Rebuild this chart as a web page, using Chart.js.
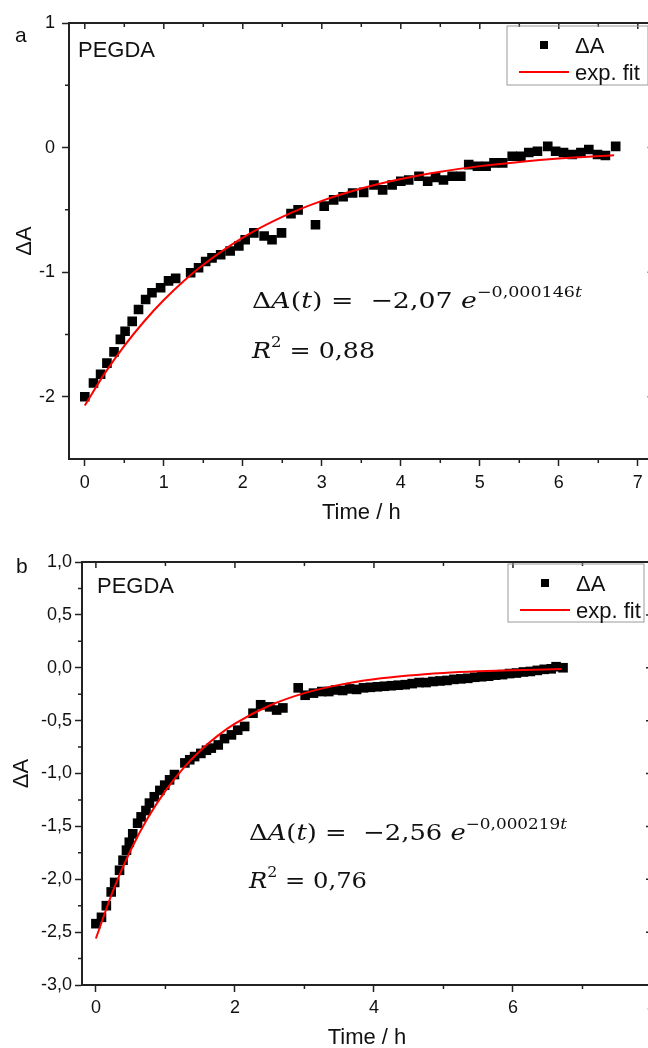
<!DOCTYPE html>
<html>
<head>
<meta charset="utf-8">
<script src="https://cdn.jsdelivr.net/npm/chart.js@4.4.1/dist/chart.umd.min.js"></script>
<style>
  html, body { margin: 0; padding: 0; background: #fff; overflow: hidden; width: 648px; height: 1048px; }
  .panel { position: absolute; left: 0; }
  #panelA { top: 0; }
  #panelB { top: 530px; }
</style>
</head>
<body>
<div class="panel" id="panelA"><canvas id="chartA" width="670" height="530"></canvas></div>
<div class="panel" id="panelB"><canvas id="chartB" width="670" height="530"></canvas></div>
<script>
// --- data ---
const timeA = [0, 0.11, 0.2, 0.28, 0.37, 0.45, 0.51, 0.6, 0.68, 0.77, 0.85, 0.96, 1.06, 1.15,
  1.34, 1.44, 1.53, 1.61, 1.72, 1.84, 1.95, 2.03, 2.14, 2.27, 2.37, 2.49, 2.61, 2.7, 2.92,
  3.03, 3.15, 3.27, 3.39, 3.53, 3.66, 3.77, 3.89, 4.0, 4.1, 4.23, 4.34, 4.44, 4.54, 4.65,
  4.76, 4.86, 4.97, 5.08, 5.18, 5.29, 5.41, 5.52, 5.62, 5.73, 5.86, 5.96, 6.06, 6.17, 6.28,
  6.38, 6.49, 6.59, 6.72];
const deltaA = [-2.0, -1.89, -1.82, -1.73, -1.64, -1.54, -1.475, -1.395, -1.3, -1.22, -1.165, -1.125, -1.07, -1.05,
  -1.005, -0.965, -0.915, -0.885, -0.86, -0.83, -0.79, -0.74, -0.685, -0.71, -0.74, -0.685, -0.53, -0.5, -0.62,
  -0.47, -0.42, -0.395, -0.365, -0.36, -0.3, -0.34, -0.3, -0.27, -0.26, -0.23, -0.27, -0.24, -0.26, -0.23,
  -0.23, -0.137, -0.15, -0.15, -0.123, -0.123, -0.07, -0.07, -0.04, -0.03, 0.01, -0.03, -0.04, -0.056, -0.04,
  -0.016, -0.056, -0.064, 0.01];
const fitTimeA = [0, 0.25, 0.5, 0.75, 1, 1.25, 1.5, 2, 2.5, 3, 3.5, 4, 4.5, 5, 5.5, 6, 6.7];
const fitA = [-2.07, -1.815, -1.592, -1.396, -1.224, -1.073, -0.941, -0.723, -0.556, -0.428, -0.329,
  -0.253, -0.194, -0.149, -0.115, -0.088, -0.061];

const timeB = [0, 0.08, 0.15, 0.22, 0.27, 0.34, 0.39, 0.44, 0.48, 0.53, 0.6, 0.65, 0.72, 0.77, 0.84, 0.92,
  0.99, 1.06, 1.13, 1.28, 1.35, 1.42, 1.51, 1.59, 1.66, 1.76, 1.85, 1.95, 2.04, 2.14, 2.26, 2.37, 2.5,
  2.6, 2.69, 2.91, 3.01, 3.13, 3.25, 3.35, 3.45, 3.55, 3.65, 3.75, 3.85, 3.95, 4.05, 4.15, 4.25, 4.35,
  4.45, 4.55, 4.65, 4.75, 4.85, 4.95, 5.05, 5.15, 5.25, 5.35, 5.45, 5.55, 5.65, 5.75, 5.85, 5.95, 6.05,
  6.15, 6.25, 6.35, 6.45, 6.55, 6.62, 6.72];
const deltaB = [-2.42, -2.36, -2.25, -2.12, -2.03, -1.915, -1.82, -1.725, -1.65, -1.57, -1.47, -1.41, -1.35, -1.28, -1.22, -1.16,
  -1.11, -1.06, -1.01, -0.9, -0.87, -0.84, -0.81, -0.78, -0.76, -0.73, -0.67, -0.635, -0.59, -0.555, -0.43, -0.35, -0.37,
  -0.4, -0.38, -0.19, -0.26, -0.24, -0.225, -0.225, -0.21, -0.215, -0.2, -0.205, -0.19, -0.185, -0.18, -0.175, -0.17, -0.165,
  -0.16, -0.15, -0.14, -0.14, -0.13, -0.125, -0.12, -0.11, -0.105, -0.1, -0.09, -0.085, -0.08, -0.07, -0.065, -0.055, -0.05,
  -0.04, -0.035, -0.025, -0.015, -0.01, 0.01, 0.0];
const fitTimeB = [0, 0.25, 0.5, 0.75, 1, 1.25, 1.5, 1.75, 2, 2.5, 3, 3.5, 4, 4.5, 5, 5.5, 6, 6.7];
const fitB = [-2.56, -2.102, -1.726, -1.417, -1.164, -0.956, -0.785, -0.644, -0.529, -0.357, -0.24, -0.162,
  -0.109, -0.074, -0.05, -0.034, -0.023, -0.013];

// --- ticks ---
const xTicksA = [0, 1, 2, 3, 4, 5, 6, 7];
const xMinorA = [0.5, 1.5, 2.5, 3.5, 4.5, 5.5, 6.5];
const yTicksA = [-2, -1, 0, 1];
const yMinorA = [-1.5, -0.5, 0.5];
const xTicksB = [0, 2, 4, 6, 8];
const xMinorB = [1, 3, 5, 7];
const yTicksB = [-3, -2.5, -2, -1.5, -1, -0.5, 0, 0.5, 1];
const yMinorB = [-2.75, -2.25, -1.75, -1.25, -0.75, -0.25, 0.25, 0.75];

const AXIS = '#222';
const SANS = '"Liberation Sans", Arial, sans-serif';
const SERIF = '"DejaVu Serif", serif';

function xy(xs, ys) { return xs.map((v, i) => ({ x: v, y: ys[i] })); }

// draws text runs (normal / italic / superscript) stretched to a target width
function drawRuns(ctx, x, y, runs, size, targetW) {
  const fontOf = r => (r.i ? 'italic ' : '') + (r.s ? Math.round(size * 0.66) : size) + 'px ' + SERIF;
  let w = 0;
  runs.forEach(r => { ctx.font = fontOf(r); w += ctx.measureText(r.t).width; });
  ctx.save();
  ctx.translate(x, y);
  ctx.scale(targetW / w, 1);
  let cx = 0;
  runs.forEach(r => {
    ctx.font = fontOf(r);
    ctx.fillText(r.t, cx, r.s ? -size * 0.47 : 0);
    cx += ctx.measureText(r.t).width;
  });
  ctx.restore();
}

function decor(o) {
  return {
    id: 'decor',
    afterDraw(chart) {
      const { ctx, chartArea: a, scales: { x, y } } = chart;
      ctx.save();
      ctx.strokeStyle = AXIS;
      ctx.lineWidth = 2;
      ctx.beginPath();
      ctx.moveTo(a.left, a.top); ctx.lineTo(a.right, a.top); ctx.lineTo(a.right, a.bottom);
      ctx.stroke();

      ctx.lineWidth = 1.5;
      ctx.beginPath();
      const seg = (x1, y1, x2, y2) => { ctx.moveTo(x1, y1); ctx.lineTo(x2, y2); };
      o.xMajor.forEach(v => { const p = x.getPixelForValue(v); seg(p, a.top, p, a.top + 6); });
      o.xMinor.forEach(v => {
        const p = x.getPixelForValue(v);
        seg(p, a.top, p, a.top + 4);
        seg(p, a.bottom, p, a.bottom + 4);
      });
      o.yMajor.forEach(v => { const p = y.getPixelForValue(v); seg(a.right, p, a.right - 6, p); });
      o.yMinor.forEach(v => {
        const p = y.getPixelForValue(v);
        seg(a.right, p, a.right - 4, p);
        seg(a.left, p, a.left - 4, p);
      });
      ctx.stroke();

      // panel letter and sample name
      ctx.fillStyle = '#111';
      ctx.textBaseline = 'alphabetic';
      ctx.font = '21px ' + SANS;
      ctx.fillText(o.letter, o.letterPos[0], o.letterPos[1]);
      ctx.font = '22px ' + SANS;
      ctx.fillText('PEGDA', o.namePos[0], o.namePos[1]);

      // legend
      const L = o.legend;
      ctx.strokeStyle = '#9a9a9a';
      ctx.lineWidth = 1;
      ctx.strokeRect(L.x, L.y, L.w, L.h);
      ctx.fillStyle = '#000';
      ctx.fillRect(L.x + 33, L.y + 15, 8, 8);
      ctx.strokeStyle = '#ff0000';
      ctx.lineWidth = 2;
      ctx.beginPath(); ctx.moveTo(L.x + 12, L.y + 46); ctx.lineTo(L.x + 62, L.y + 46); ctx.stroke();
      ctx.fillStyle = '#111';
      ctx.font = '22px ' + SANS;
      ctx.fillText('\u0394A', L.x + 68, L.y + 27);
      ctx.fillText('exp. fit', L.x + 68, L.y + 54);

      // fit equation
      ctx.fillStyle = '#111';
      const E = o.eq;
      drawRuns(ctx, E.x, E.y1, [
        { t: '\u0394' }, { t: 'A', i: 1 }, { t: '(' }, { t: 't', i: 1 }, { t: ')' },
        { t: ' =  \u2212' + E.amp + ' ' }, { t: 'e', i: 1 }, { t: '\u2212' + E.rate, s: 1 }, { t: 't', i: 1, s: 1 }
      ], 23, E.w1);
      drawRuns(ctx, E.x, E.y2, [
        { t: 'R', i: 1 }, { t: '2', s: 1 }, { t: ' = ' + E.r2 }
      ], 23, E.w2);
      ctx.restore();
    }
  };
}

function makeChart(id, cfg) {
  const ctx = document.getElementById(id).getContext('2d');
  const fixTicks = arr => s => { s.ticks = arr.map(v => ({ value: v })); };
  return new Chart(ctx, {
    type: 'scatter',
    data: {
      datasets: [
        {
          label: '\u0394A',
          data: xy(cfg.t, cfg.v),
          pointStyle: 'rect',
          pointRadius: 6.8,
          pointBorderWidth: 0,
          backgroundColor: '#000',
          borderColor: '#000',
          showLine: false,
          order: 2
        },
        {
          label: 'exp. fit',
          data: xy(cfg.ft, cfg.fv),
          showLine: true,
          borderColor: '#ff0000',
          borderWidth: 2,
          pointRadius: 0,
          cubicInterpolationMode: 'monotone',
          order: 1
        }
      ]
    },
    options: {
      responsive: false,
      animation: false,
      layout: { padding: cfg.pad },
      plugins: { legend: { display: false }, tooltip: { enabled: false } },
      scales: {
        x: {
          type: 'linear',
          min: cfg.xMin, max: cfg.xMax,
          afterBuildTicks: fixTicks(cfg.xTicks),
          afterFit: s => { s.height = cfg.xH; },
          grid: { drawOnChartArea: false, drawTicks: true, tickLength: 7, tickWidth: 1.5, tickColor: AXIS },
          border: { display: true, color: AXIS, width: 2 },
          ticks: { font: { family: SANS, size: 18 }, color: '#111', padding: cfg.xPad, maxRotation: 0 },
          title: { display: true, text: 'Time / h', font: { family: SANS, size: 22 }, color: '#111', padding: { bottom: cfg.xTitlePad } }
        },
        y: {
          type: 'linear',
          min: cfg.yMin, max: cfg.yMax,
          afterBuildTicks: fixTicks(cfg.yTicks),
          afterFit: s => { s.width = cfg.yW; },
          grid: { drawOnChartArea: false, drawTicks: true, tickLength: 7, tickWidth: 1.5, tickColor: AXIS },
          border: { display: true, color: AXIS, width: 2 },
          ticks: { font: { family: SANS, size: 18 }, color: '#111', padding: cfg.yPad, callback: cfg.fmt },
          title: { display: true, text: '\u0394A', font: { family: SANS, size: 22 }, color: '#111', padding: { top: cfg.yTitlePad } }
        }
      }
    },
    plugins: [decor(cfg.decor)]
  });
}

makeChart('chartA', {
  t: timeA, v: deltaA, ft: fitTimeA, fv: fitA,
  xMin: -0.2, xMax: 7.2, yMin: -2.5, yMax: 1,
  xTicks: xTicksA, yTicks: yTicksA,
  pad: { top: 23, right: 16.4, left: 0, bottom: 0 },
  xH: 71, yW: 69, xPad: 6, yPad: 7, xTitlePad: 4, yTitlePad: 12,
  fmt: v => String(v),
  decor: {
    xMajor: xTicksA, xMinor: xMinorA, yMajor: yTicksA, yMinor: yMinorA,
    letter: 'a', letterPos: [15, 42], namePos: [78, 57],
    legend: { x: 507, y: 26, w: 141, h: 59 },
    eq: { x: 252, y1: 308, y2: 358, w1: 330, w2: 123, amp: '2,07', rate: '0,000146', r2: '0,88' }
  }
});

makeChart('chartB', {
  t: timeB, v: deltaB, ft: fitTimeB, fv: fitB,
  xMin: -0.2, xMax: 8, yMin: -3, yMax: 1,
  xTicks: xTicksB, yTicks: yTicksB,
  pad: { top: 32, right: 18, left: 0, bottom: 0 },
  xH: 75, yW: 82, xPad: 5, yPad: 3, xTitlePad: 9, yTitlePad: 9,
  fmt: v => v.toFixed(1).replace('.', ','),
  decor: {
    xMajor: xTicksB, xMinor: xMinorB, yMajor: yTicksB, yMinor: yMinorB,
    letter: 'b', letterPos: [16, 43], namePos: [97, 63],
    legend: { x: 508, y: 34, w: 136, h: 58 },
    eq: { x: 249, y1: 310, y2: 358, w1: 318, w2: 118, amp: '2,56', rate: '0,000219', r2: '0,76' }
  }
});
</script>
</body>
</html>
